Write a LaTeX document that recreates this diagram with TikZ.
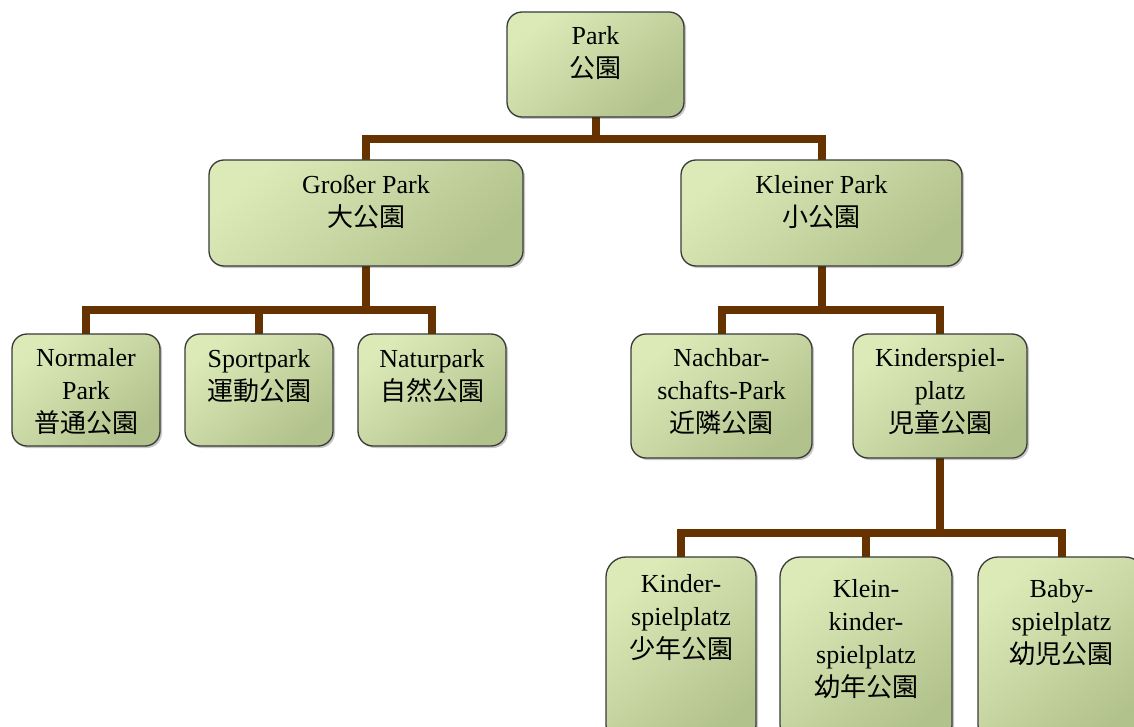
\documentclass[tikz,border=0pt]{standalone}
\usepackage{fontspec}
\setmainfont{Liberation Serif}
\newfontfamily\jp{Noto Sans CJK JP}
\usetikzlibrary{shadows,backgrounds}
\definecolor{boxlight}{HTML}{DCEAB8}
\definecolor{boxdark}{HTML}{B2C28C}
\definecolor{conncol}{HTML}{663300}
\definecolor{edgecol}{HTML}{3A3A3A}
\tikzset{
  box/.style={draw=edgecol, line width=1.3pt, rounded corners=15pt,
    top color=boxlight, bottom color=boxdark, shading angle=40,
    inner sep=0pt, outer sep=0pt,
    drop shadow={shadow xshift=2pt, shadow yshift=-2pt, fill=black, opacity=0.22}},
  tallbox/.style={box, rounded corners=20pt},
  txt/.style={align=center, font=\fontsize{26}{33}\selectfont, text=black, inner sep=0pt},
  conn/.style={draw=conncol, line width=8pt, line join=miter}
}
\begin{document}
\begin{tikzpicture}[x=1pt,y=-1pt]
\useasboundingbox (0,0) rectangle (1134,727);
\clip (0,0) rectangle (1134,727);
% boxes
\node[box, minimum width=177pt, minimum height=105pt] (park) at (595.5,64.5) {};
\node[box, minimum width=314pt, minimum height=106pt] (gross) at (366,213) {};
\node[box, minimum width=281pt, minimum height=106pt] (klein) at (821.5,213) {};
\node[box, minimum width=148pt, minimum height=112pt] (normal) at (86,390) {};
\node[box, minimum width=148pt, minimum height=112pt] (sport) at (259,390) {};
\node[box, minimum width=148pt, minimum height=112pt] (natur) at (432,390) {};
\node[box, minimum width=181pt, minimum height=124pt] (nachbar) at (721.5,396) {};
\node[box, minimum width=174pt, minimum height=124pt] (kinder) at (940,396) {};
\node[tallbox, minimum width=150pt, minimum height=188pt] (kinderb) at (681,651) {};
\node[tallbox, minimum width=172pt, minimum height=188pt] (kleink) at (866,651) {};
\node[tallbox, minimum width=167pt, minimum height=188pt] (baby) at (1061.5,651) {};
% texts
\node[txt] (parkT) at (595.5,53.5) {Park\\{\jp 公園}};
\node[txt] (grossT) at (366,202) {Großer Park\\{\jp 大公園}};
\node[txt] (kleinT) at (821.5,202) {Kleiner Park\\{\jp 小公園}};
\node[txt] (normalT) at (86,392) {Normaler\\Park\\{\jp 普通公園}};
\node[txt] (sportT) at (259,376) {Sportpark\\{\jp 運動公園}};
\node[txt] (naturT) at (432,376) {Naturpark\\{\jp 自然公園}};
\node[txt] (nachbarT) at (721.5,392) {Nachbar-\\schafts-Park\\{\jp 近隣公園}};
\node[txt] (kinderT) at (940,392) {Kinderspiel-\\platz\\{\jp 児童公園}};
\node[txt] (kinderbT) at (681,618) {Kinder-\\spielplatz\\{\jp 少年公園}};
\node[txt] (kleinkT) at (866,639.5) {Klein-\\kinder-\\spielplatz\\{\jp 幼年公園}};
\node[txt] (babyT) at (1061.5,623) {Baby-\\spielplatz\\{\jp 幼児公園}};
% connectors
\coordinate (busA) at (0,139);
\coordinate (busB) at (0,310);
\coordinate (busC) at (0,532.5);
\begin{scope}[on background layer]
\draw[conn] (park.south) -- (park.south |- busA);
\draw[conn] (gross.north) -- (gross.north |- busA) -- (klein.north |- busA) -- (klein.north);
\draw[conn] (gross.south) -- (gross.south |- busB);
\draw[conn] (normal.north) -- (normal.north |- busB) -- (natur.north |- busB) -- (natur.north);
\draw[conn] (sport.north) -- (sport.north |- busB);
\draw[conn] (klein.south) -- (klein.south |- busB);
\draw[conn] (nachbar.north) -- (nachbar.north |- busB) -- (kinder.north |- busB) -- (kinder.north);
\draw[conn] (kinder.south) -- (kinder.south |- busC);
\draw[conn] (kinderb.north) -- (kinderb.north |- busC) -- (baby.north |- busC) -- (baby.north);
\draw[conn] (kleink.north) -- (kleink.north |- busC);
\end{scope}
\end{tikzpicture}
\end{document}
